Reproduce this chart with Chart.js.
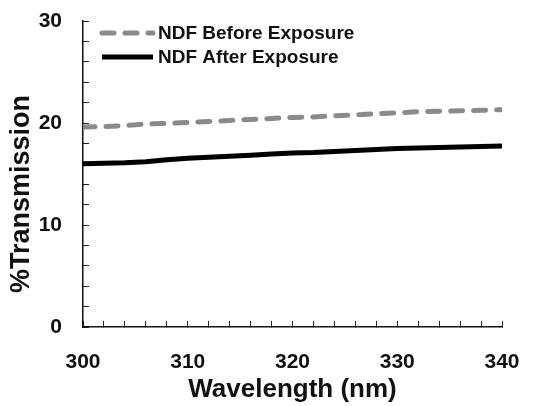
<!DOCTYPE html>
<html>
<head>
<meta charset="utf-8">
<script src="https://cdn.jsdelivr.net/npm/chart.js"></script>
<style>
    html, body { margin: 0; padding: 0; background: #fff; }
    canvas { display: block; }
</style>
</head>
<body>
<canvas id="transmission-chart" width="533" height="406"></canvas>
<script>
    // wavelength in nm, values in % transmission
    var wavelengths = [300, 302, 304, 306, 308, 310, 312, 314, 316, 318, 320, 322, 324, 326, 328, 330, 332, 334, 336, 338, 340];
    var beforeExposure = [19.6, 19.65, 19.75, 19.9, 19.95, 20.05, 20.15, 20.25, 20.35, 20.45, 20.55, 20.6, 20.7, 20.8, 20.9, 21.0, 21.1, 21.15, 21.2, 21.25, 21.3];
    var afterExposure = [16.0, 16.05, 16.1, 16.2, 16.4, 16.55, 16.65, 16.75, 16.85, 16.95, 17.05, 17.1, 17.2, 17.3, 17.4, 17.5, 17.55, 17.6, 17.65, 17.7, 17.75];
    var seriesLabels = ["NDF Before Exposure", "NDF After Exposure"];
    var xLabelValues = [300, 310, 320, 330, 340];
    var yLabelValues = [0, 10, 20, 30];

    var fontFamily = "'Liberation Sans', Arial, sans-serif";
    var inkColor = "#111";

    function toPoints(values) {
        return values.map(function(v, i) { return { x: wavelengths[i], y: v }; });
    }

    // legend inside the plot, top-left, and the rotated y title
    var overlayPlugin = {
        id: "overlay",
        afterDraw: function(chart) {
            var ctx = chart.ctx,
                area = chart.chartArea;
            ctx.save();
            chart.data.datasets.forEach(function(ds, i) {
                var y = area.top + 12 + i * 24;
                ctx.beginPath();
                ctx.strokeStyle = ds.borderColor;
                ctx.lineWidth = ds.borderWidth;
                ctx.lineCap = ds.borderCapStyle || "butt";
                ctx.setLineDash(ds.borderDash || []);
                ctx.moveTo(area.left + 19, y);
                ctx.lineTo(area.left + 70, y);
                ctx.stroke();
                ctx.setLineDash([]);
                ctx.fillStyle = inkColor;
                ctx.font = "bold 19px " + fontFamily;
                ctx.textAlign = "left";
                ctx.textBaseline = "middle";
                ctx.fillText(ds.label, area.left + 75, y + 1);
            });
            ctx.translate(area.left - 61, (area.top + area.bottom) / 2 + 20);
            ctx.rotate(-Math.PI / 2);
            ctx.font = "bold 27px " + fontFamily;
            ctx.textAlign = "center";
            ctx.textBaseline = "middle";
            ctx.fillStyle = inkColor;
            ctx.fillText("%Transmission", 0, 0);
            ctx.restore();
        }
    };

    new Chart(document.getElementById("transmission-chart").getContext("2d"), {
        type: "line",
        data: {
            datasets: [
                {
                    label: seriesLabels[0],
                    data: toPoints(beforeExposure),
                    borderColor: "#8a8a8a",
                    borderWidth: 5,
                    borderDash: [12, 11],
                    borderCapStyle: "round",
                    pointRadius: 0,
                    fill: false,
                    tension: 0
                },
                {
                    label: seriesLabels[1],
                    data: toPoints(afterExposure),
                    borderColor: "#000",
                    borderWidth: 5,
                    pointRadius: 0,
                    fill: false,
                    tension: 0
                }
            ]
        },
        options: {
            responsive: false,
            animation: false,
            layout: {
                padding: { left: 0, right: 31, top: 21, bottom: 0 }
            },
            plugins: {
                legend: { display: false },
                tooltip: { enabled: false }
            },
            scales: {
                x: {
                    type: "linear",
                    min: 300,
                    max: 340,
                    afterFit: function(scale) {
                        scale.height = 79;
                        scale.paddingLeft = 0;
                        scale.paddingRight = 0;
                    },
                    ticks: {
                        stepSize: 2,
                        autoSkip: false,
                        maxRotation: 0,
                        padding: 29,
                        color: inkColor,
                        font: { family: fontFamily, size: 21, weight: "bold" },
                        callback: function(value) {
                            return xLabelValues.indexOf(value) >= 0 ? value.toString() : "";
                        }
                    },
                    grid: {
                        drawOnChartArea: false,
                        drawTicks: true,
                        tickLength: -6,
                        tickWidth: 1,
                        tickColor: "#222"
                    },
                    border: { color: "#111", width: 1.5 },
                    title: {
                        display: true,
                        text: "Wavelength (nm)",
                        color: inkColor,
                        font: { family: fontFamily, size: 26, weight: "bold" },
                        padding: { top: 1, bottom: 1 }
                    }
                },
                y: {
                    min: 0,
                    max: 30,
                    afterFit: function(scale) {
                        scale.width = 83;
                        scale.paddingTop = 0;
                        scale.paddingBottom = 0;
                    },
                    ticks: {
                        stepSize: 2,
                        autoSkip: false,
                        padding: 27,
                        color: inkColor,
                        font: { family: fontFamily, size: 21, weight: "bold" },
                        callback: function(value) {
                            return yLabelValues.indexOf(value) >= 0 ? value.toString() : "";
                        }
                    },
                    grid: {
                        drawOnChartArea: false,
                        drawTicks: true,
                        tickLength: -6,
                        tickWidth: 1,
                        tickColor: "#222"
                    },
                    border: { color: "#111", width: 1.5 }
                }
            }
        },
        plugins: [overlayPlugin]
    });
</script>
</body>
</html>
